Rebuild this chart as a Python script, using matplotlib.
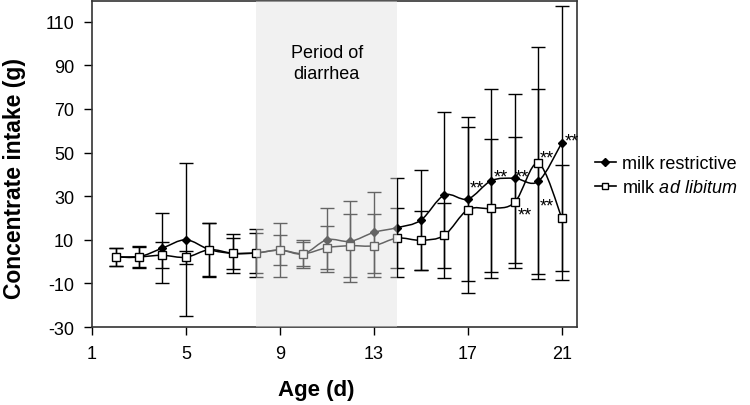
import matplotlib
matplotlib.use("Agg")
import matplotlib.pyplot as plt
from matplotlib.path import Path
from matplotlib.patches import PathPatch
from matplotlib.lines import Line2D
import numpy as np

plt.rcParams['font.family'] = ['Liberation Sans', 'DejaVu Sans']
plt.rcParams['axes.unicode_minus'] = False
plt.rcParams['mathtext.fontset'] = 'custom'
plt.rcParams['mathtext.rm'] = 'Liberation Sans'
plt.rcParams['mathtext.it'] = 'Liberation Sans:italic'

# data
days = [2, 3, 4, 5, 6, 7, 8, 9, 10, 11, 12, 13, 14, 15, 16, 17, 18, 19, 20, 21]
restrictive = [2.2, 2.2, 6.2, 10.0, 5.5, 3.8, 4.0, 5.3, 3.6, 10.0,
               9.3, 13.4, 15.6, 19.0, 30.5, 28.7, 37.1, 38.2, 36.8, 54.4]
restrictive_sd = [4.0, 5.0, 16.0, 35.0, 12.4, 9.0, 11.0, 12.3, 6.3, 14.6,
                  18.7, 18.4, 22.7, 23.0, 38.0, 37.5, 42.0, 38.7, 42.4, 62.7]
ad_libitum = [2.2, 2.2, 2.9, 2.0, 5.5, 3.8, 4.0, 5.3, 3.6, 6.4,
              7.3, 7.3, 10.8, 9.8, 12.1, 23.8, 24.4, 27.2, 45.1, 20.2]
ad_libitum_sd = [4.0, 4.5, 6.0, 3.0, 12.0, 7.2, 9.0, 7.0, 5.5, 10.0,
                 14.5, 14.5, 13.6, 13.6, 15.0, 38.1, 31.8, 30.1, 53.2, 24.3]

# significance marks (day, value)
sig_x = [17.38, 18.40, 19.31, 19.41, 20.35, 20.35, 21.41]
sig_y = [36.6, 41.4, 41.7, 24.1, 50.1, 28.4, 58.1]

diarrhea_start, diarrhea_end = 8, 14
xticks = [1, 5, 9, 13, 17, 21]
yticks = [-30, -10, 10, 30, 50, 70, 90, 110]


def smooth_path(x, y):
    """Bezier path through the points (Excel-like smoothed line)."""
    pts = np.column_stack([x, y]).astype(float)
    ext = np.vstack([pts[0], pts, pts[-1]])
    verts = [pts[0]]
    codes = [Path.MOVETO]
    for i in range(1, len(ext) - 2):
        p0, p1, p2, p3 = ext[i - 1], ext[i], ext[i + 1], ext[i + 2]
        c1 = p1 + (p2 - p0) / 6.0
        c2 = p2 - (p3 - p1) / 6.0
        verts += [c1, c2, p2]
        codes += [Path.CURVE4] * 3
    return Path(verts, codes)


fig = plt.figure(figsize=(7.5, 4.06), dpi=100)
ax = fig.add_axes([0.1227, 0.192, 0.6466, 0.803])

for m, sd in [(ad_libitum, ad_libitum_sd), (restrictive, restrictive_sd)]:
    ax.errorbar(days, m, yerr=sd, fmt='none', ecolor='black',
                elinewidth=1.0, capsize=5, capthick=1.0, zorder=2)

ax.add_patch(PathPatch(smooth_path(days, restrictive), fill=False,
                       edgecolor='black', lw=1.1, zorder=3))
ax.add_patch(PathPatch(smooth_path(days, ad_libitum), fill=False,
                       edgecolor='black', lw=1.1, zorder=3))
ax.plot(days, restrictive, ls='none', marker='D', ms=4.5, color='black', zorder=4)
ax.plot(days, ad_libitum, ls='none', marker='s', ms=5.5, mfc='white',
        mec='black', mew=1, zorder=4)

ax.axvspan(diarrhea_start, diarrhea_end, facecolor='#e2e2e2', alpha=0.45,
           lw=0, zorder=5)
ax.text((diarrhea_start + diarrhea_end) / 2, 91, 'Period of\ndiarrhea',
        ha='center', va='center', fontsize=13, linespacing=1.3, zorder=6)

for x, y in zip(sig_x, sig_y):
    ax.annotate('**', (x, y), xytext=(0, -7.5), textcoords='offset points',
                ha='center', va='baseline', fontsize=13, zorder=6)

ax.set_xlim(1, 21.65)
ax.set_ylim(-30, 119.5)
ax.set_xticks(xticks)
ax.set_yticks(yticks)
ax.tick_params(direction='out', length=6, width=1, pad=7, labelsize=13)
for s in ax.spines.values():
    s.set_color('#333333')
    s.set_linewidth(1.2)

ax.set_xlabel('Age (d)', fontsize=16, fontweight='bold')
ax.set_ylabel('Concentrate intake (g)', fontsize=16.5, fontweight='bold')
ax.xaxis.set_label_coords(0.462, -0.158)
ax.yaxis.set_label_coords(-0.136, 0.46)

handles = [
    Line2D([], [], color='black', lw=1.2, marker='D', ms=4),
    Line2D([], [], color='black', lw=1.2, marker='s', ms=4.5, mfc='white', mew=1),
]
fig.legend(handles, ['milk restrictive', 'milk $\\mathit{ad\\ libitum}$'],
           loc='upper left', bbox_to_anchor=(0.793, 0.616),
           bbox_transform=fig.transFigure, frameon=False, fontsize=13,
           borderpad=0, borderaxespad=0, handlelength=1.15,
           handletextpad=0.35, labelspacing=0.4)

fig.savefig('out.png', dpi=100)
